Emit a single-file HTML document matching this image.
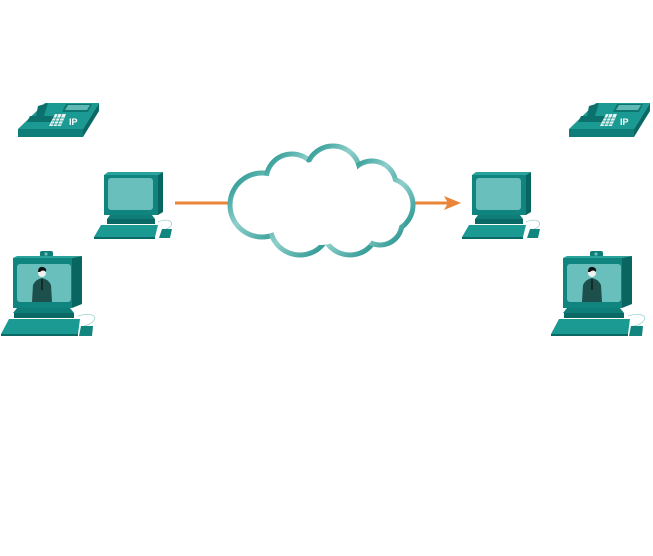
<!DOCTYPE html>
<html><head><meta charset="utf-8"><style>html,body{margin:0;padding:0;background:#fff}svg{display:block}</style></head>
<body>
<svg width="653" height="556" viewBox="0 0 653 556" xmlns="http://www.w3.org/2000/svg">
<defs>
<g id="phone">
  <polygon points="45,103 99,103 83,129 18,129" fill="#1b9a93"/>
  <polygon points="18,129 83,129 83,137 18,137" fill="#0f7e78"/>
  <polygon points="83,129 99,103 99,111 83,137" fill="#0a6964"/>
  <polygon points="38,106 48,103 44,116 58,116 54,122 27,122 30,116 36,116" fill="#0c716c"/>
  <polygon points="66,104 92,104 88,112 62,112" fill="#0e7570"/>
  <polygon points="68,105 90,105 87,110 65,110" fill="#5fb9b4"/>
  <polygon points="55,114 66,114 61,126 49,126" fill="#e8f4f3"/>
  <g stroke="#1b9a93" stroke-width="0.8"><line x1="53" y1="118" x2="64" y2="118"/><line x1="52" y1="121" x2="63" y2="121"/><line x1="51" y1="124" x2="62" y2="124"/><line x1="58" y1="114" x2="53" y2="126"/><line x1="62" y1="114" x2="57" y2="126"/></g>
  <text x="69" y="125" font-family="Liberation Sans, sans-serif" font-weight="bold" font-size="9" fill="#fff">IP</text>
</g>
<g id="pc">
  <polygon points="104,175 108,172 163,172 158,175" fill="#2aa39c"/>
  <rect x="104" y="175" width="54" height="40" fill="#10847e"/>
  <polygon points="158,175 163,172 163,212 158,215" fill="#086560"/>
  <rect x="108" y="178" width="45" height="32" rx="3" fill="#68bfbb"/>
  <polygon points="110,215 152,215 155,219 107,219" fill="#0f7e78"/>
  <rect x="107" y="219" width="48" height="5" fill="#0a6964"/>
  <polygon points="101,225 158,225 155,237 94,237" fill="#1b9a93"/>
  <polygon points="94,237 155,237 155,239 94,239" fill="#0a6964"/>
  <path d="M158,222 C172,216 176,226 166,229" stroke="#9dd3d0" stroke-width="0.8" fill="none"/>
  <polygon points="162,229 172,229 170,238 159,238" fill="#12857f"/>
</g>
<g id="vpc">
  <rect x="40" y="251" width="13" height="6" rx="2" fill="#0f7e78"/>
  <circle cx="46" cy="254" r="1.6" fill="#68bfbb"/>
  <polygon points="13,258 17,256 82,256 72,258" fill="#2aa39c"/>
  <rect x="13" y="258" width="59" height="50" fill="#10847e"/>
  <polygon points="72,258 82,256 82,304 72,308" fill="#086560"/>
  <rect x="17" y="264" width="54" height="38" rx="3" fill="#68bfbb"/>
  <path d="M32,302 L33,285 Q36,279 42,278 Q48,279 51,285 L52,302 Z" fill="#1d4f4c"/>
  <circle cx="42" cy="273" r="4" fill="#f0f0f0"/>
  <path d="M38,272 Q38,266 43,267 Q47,268 46,272 Q43,269 40,272 Z" fill="#111"/>
  <line x1="42" y1="279" x2="42" y2="290" stroke="#111" stroke-width="1.2"/>
  <polygon points="17,308 70,308 74,313 13,313" fill="#0f7e78"/>
  <rect x="14" y="313" width="60" height="5" fill="#0a6964"/>
  <polygon points="9,319 80,319 78,334 1,334" fill="#1b9a93"/>
  <rect x="1" y="334" width="77" height="2" fill="#0a6964"/>
  <path d="M78,316 C98,310 100,322 84,326" stroke="#9dd3d0" stroke-width="0.8" fill="none"/>
  <polygon points="81,326 93,326 92,336 79,336" fill="#12857f"/>
</g>
<linearGradient id="cg" x1="0" y1="0" x2="1" y2="1">
  <stop offset="0" stop-color="#0f8a83"/><stop offset="0.45" stop-color="#8fcfcb"/><stop offset="1" stop-color="#148a84"/>
</linearGradient>
</defs>

<use href="#phone"/>
<use href="#phone" transform="translate(551,0)"/>
<use href="#pc"/>
<use href="#pc" transform="translate(368,0)"/>
<use href="#vpc"/>
<use href="#vpc" transform="translate(550,0)"/>

<line x1="175" y1="203" x2="232" y2="203" stroke="#ea8436" stroke-width="3"/>
<line x1="412" y1="203" x2="448" y2="203" stroke="#ea8436" stroke-width="3"/>
<polygon points="461,203 444,196 448,203 444,210" fill="#ea8436"/>

<g fill="url(#cg)">
  <circle cx="262" cy="205" r="34.5"/><circle cx="292" cy="180" r="28.5"/><circle cx="333" cy="173" r="29.5"/>
  <circle cx="372" cy="185" r="26.5"/><circle cx="386" cy="205" r="29.5"/><circle cx="300" cy="225" r="32.5"/>
  <circle cx="350" cy="227" r="30.5"/><circle cx="380" cy="223" r="24.5"/>
</g>
<g fill="#fff">
  <circle cx="262" cy="205" r="29.5"/><circle cx="292" cy="180" r="23.5"/><circle cx="333" cy="173" r="24.5"/>
  <circle cx="372" cy="185" r="21.5"/><circle cx="386" cy="205" r="24.5"/><circle cx="300" cy="225" r="27.5"/>
  <circle cx="350" cy="227" r="25.5"/><circle cx="380" cy="223" r="19.5"/><circle cx="320" cy="203" r="42"/>
</g>
</svg>
</body></html>
